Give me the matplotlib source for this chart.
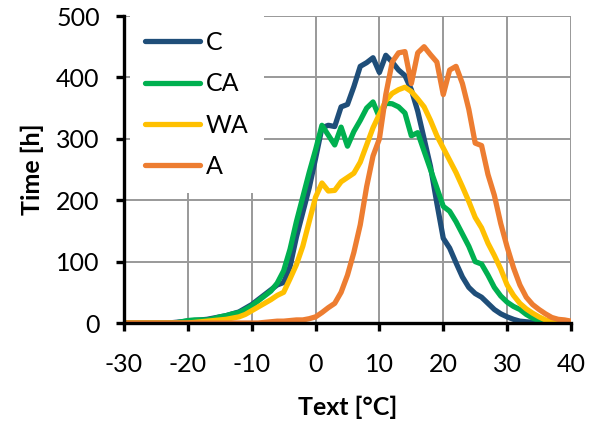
import numpy as np
import matplotlib
matplotlib.use("Agg")
import matplotlib.pyplot as plt

plt.rcParams['font.family'] = ['Lato', 'DejaVu Sans']
plt.rcParams['axes.unicode_minus'] = False

temp = list(range(-30, 41))

c_hours = [0, 0, 0, 0, 0, 0, 0, 0, 1, 2, 3, 4, 5, 6, 8, 10, 12, 15, 18, 24,
           30, 38, 46, 54, 62, 66, 92, 140, 180, 220, 268, 318, 322, 320, 352,
           356, 385, 418, 424, 432, 408, 436, 425, 412, 403, 380, 345, 300,
           255, 195, 138, 122, 98, 75, 58, 48, 42, 32, 22, 15, 10, 6, 3, 2, 1,
           0, 0, 0, 0, 0, 0]
ca_hours = [0, 0, 0, 0, 0, 0, 0, 0, 0, 2, 4, 5, 5, 5, 7, 10, 12, 15, 17, 22,
            28, 36, 44, 52, 65, 85, 120, 165, 205, 245, 282, 322, 306, 290,
            319, 288, 312, 330, 350, 360, 335, 358, 357, 352, 342, 305, 310,
            280, 250, 220, 190, 182, 165, 145, 125, 100, 96, 78, 58, 44, 34,
            27, 22, 14, 8, 4, 1, 0, 0, 0, 0]
wa_hours = [0, 0, 0, 0, 0, 0, 0, 0, 0, 0, 0, 1, 2, 3, 4, 5, 6, 8, 10, 14, 20,
            26, 32, 38, 45, 50, 72, 95, 125, 165, 205, 228, 215, 216, 230, 237,
            244, 262, 290, 318, 340, 362, 374, 380, 384, 377, 365, 352, 330,
            305, 285, 265, 245, 222, 198, 172, 155, 130, 110, 88, 62, 45, 32,
            23, 16, 10, 5, 3, 1, 0, 0]
a_hours = [0, 0, 0, 0, 0, 0, 0, 0, 0, 0, 0, 0, 0, 0, 0, 0, 0, 0, 0, 0, 0, 0,
           1, 2, 3, 3, 4, 5, 5, 7, 10, 17, 25, 32, 50, 78, 115, 160, 222, 272,
           300, 372, 425, 440, 442, 390, 440, 450, 437, 425, 372, 412, 418,
           390, 348, 293, 289, 242, 208, 162, 124, 90, 62, 42, 30, 22, 15, 9,
           6, 5, 3]

series = ['C', 'CA', 'WA', 'A']
colors = ['#1F4E79', '#00B050', '#FFC000', '#ED7D31']

fig = plt.figure(figsize=(5.97, 4.28), dpi=100)
ax = fig.add_axes([0.2077, 0.2453, 0.7487, 0.7173])

for name, vals, col in zip(series, [c_hours, ca_hours, wa_hours, a_hours], colors):
    ax.plot(temp, vals, color=col, lw=3.8, label=name, solid_joinstyle='round',
            solid_capstyle='round')

ax.set_xlim(-30, 40)
ax.set_ylim(0, 500)
ax.set_xticks(range(-30, 41, 10))
ax.set_yticks(range(0, 501, 100))
ax.grid(True, color='#999999', lw=1.4)
ax.set_axisbelow(True)

for s in ['top', 'right']:
    ax.spines[s].set_visible(False)
for s in ['left', 'bottom']:
    ax.spines[s].set_linewidth(2.4)
    ax.spines[s].set_color('black')
    ax.spines[s].set_zorder(5)

ax.tick_params(axis='both', direction='out', length=5.5, width=2.4,
               labelsize=18)
ax.tick_params(axis='y', pad=12)
ax.tick_params(axis='x', pad=16)

ax.set_xlabel('Text [°C]', fontsize=18, fontweight='bold', labelpad=14)
ax.set_ylabel('Time [h]', fontsize=18, fontweight='bold', labelpad=9)

leg = ax.legend(loc='upper left', bbox_to_anchor=(0.013, 1.0), fontsize=18,
                handlelength=2.2, handletextpad=0.25, labelspacing=0.73,
                borderpad=0.6, frameon=True, fancybox=False, framealpha=1,
                edgecolor='none', facecolor='white', borderaxespad=0)
for line in leg.get_lines():
    line.set_linewidth(3.8)

fig.savefig('out.png', dpi=100)
